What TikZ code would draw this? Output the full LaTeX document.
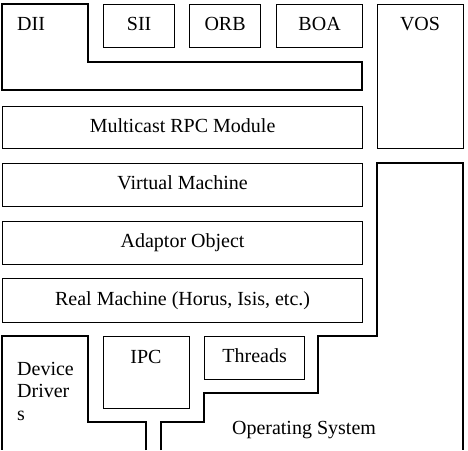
\documentclass[tikz,border=0pt]{standalone}
\usepackage{fontspec}
\setmainfont{Liberation Serif}
\usetikzlibrary{positioning}
\tikzset{
  layer/.style   = {draw, line width=1.2pt, rectangle, anchor=north west,
                    inner sep=0pt, text height=13.5pt, text depth=4pt},
  outline/.style = {draw, line width=1.2pt, line join=miter},
  lbl/.style     = {inner sep=0pt},
}
\begin{document}
\begin{tikzpicture}[x=1pt,y=-1pt,font=\fontsize{20}{22.5}\selectfont]
\useasboundingbox (0,0) rectangle (468,450);
% upper layers
\draw[outline] (2,4) -- (88,4) -- (88,62) -- (362,62) -- (362,90) -- (2,90) -- cycle;
\node[lbl,anchor=base west] (dii) at (17,30) {DII};
\node[layer,minimum width=71pt,minimum height=43pt] (sii) at (103,4) {SII};
\node[layer,minimum width=71pt,minimum height=43pt] (orb) at (189,4) {ORB};
\node[layer,minimum width=86pt,minimum height=43pt] (boa) at (276,4) {BOA};
\node[layer,minimum width=86pt,minimum height=144pt] (vos) at (377,4) {};
\node[lbl,anchor=base] (voslbl) at (420,30) {VOS};
\node[layer,minimum width=360pt,minimum height=42pt] (rpc) at (2,106) {Multicast RPC Module};
\node[layer,minimum width=360pt,minimum height=43pt] (vm) at (2,163) {Virtual Machine};
\node[layer,minimum width=360pt,minimum height=43pt] (ao) at (2,221) {Adaptor Object};
\node[layer,minimum width=360pt,minimum height=44pt] (rm) at (2,278) {Real Machine (Horus, Isis, etc.)};
% operating system
\draw[outline] (161,450) -- (161,422) -- (204,422) -- (204,393) -- (318,393) -- (318,336)
  -- (377,336) -- (377,163) -- (463,163) -- (463,450);
\node[lbl,anchor=base] (os) at (304,434) {Operating System};
\draw[outline] (146,450) -- (146,422) -- (88,422) -- (88,336) -- (2,336) -- (2,450);
\node[lbl,anchor=north west,align=left] (dd) at (17,362) {Device\\Driver\\s};
\node[layer,minimum width=86pt,minimum height=72pt] (ipc) at (103,336) {};
\node[lbl,anchor=base] (ipclbl) at (146,363) {IPC};
\node[layer,minimum width=100pt,minimum height=43pt] (thr) at (204,336) {Threads};
\end{tikzpicture}
\end{document}
